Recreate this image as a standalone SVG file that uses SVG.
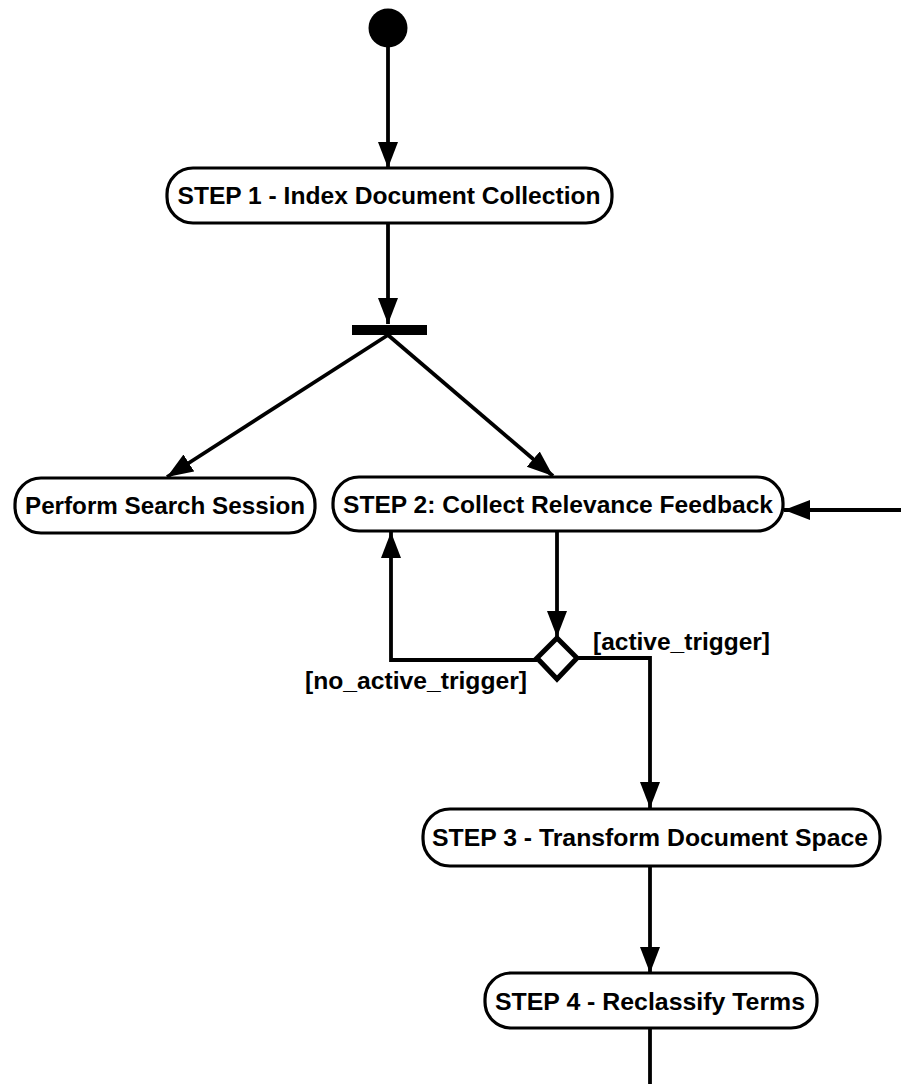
<svg xmlns="http://www.w3.org/2000/svg" width="901" height="1084" viewBox="0 0 901 1084">
  <style>
    .node { fill: #fff; stroke: #000; stroke-width: 3.2; }
    .label { font-family: "Liberation Sans", Arial, sans-serif; font-weight: bold; font-size: 24px; fill: #000; }
    .guard { font-family: "Liberation Sans", Arial, sans-serif; font-weight: bold; font-size: 23px; fill: #000; }
    .edge { fill: none; stroke: #000; stroke-width: 3.8; }
  </style>
  <defs>
    <marker id="arrow" markerUnits="userSpaceOnUse" markerWidth="28" markerHeight="22" refX="26" refY="10" orient="auto">
      <path d="M0,0 L26,10 L0,20 Z" fill="#000"/>
    </marker>
  </defs>
  <rect width="901" height="1084" fill="#fff"/>

  <g id="connectors">
    <line class="edge" x1="388" y1="46" x2="388" y2="168" marker-end="url(#arrow)"/>
    <line class="edge" x1="388" y1="223" x2="388" y2="324" marker-end="url(#arrow)"/>
    <line class="edge" x1="388" y1="335" x2="167" y2="477" marker-end="url(#arrow)"/>
    <line class="edge" x1="388" y1="335" x2="553" y2="476" marker-end="url(#arrow)"/>
    <line class="edge" x1="901" y1="510" x2="784" y2="510" marker-end="url(#arrow)"/>
    <line class="edge" x1="557" y1="531" x2="557" y2="637" marker-end="url(#arrow)"/>
    <polyline class="edge" points="537,660 391,660 391,532" marker-end="url(#arrow)"/>
    <polyline class="edge" points="577,658 650,658 650,808" marker-end="url(#arrow)"/>
    <line class="edge" x1="650" y1="866" x2="650" y2="973" marker-end="url(#arrow)"/>
    <line class="edge" x1="650" y1="1028" x2="650" y2="1084"/>
  </g>

  <g id="start">
    <circle cx="388" cy="28" r="19.5" fill="#000"/>
  </g>

  <g id="step1">
    <rect class="node" x="167" y="168" width="445" height="55" rx="26"/>
    <text class="label" x="389" y="204" text-anchor="middle" textLength="423" lengthAdjust="spacingAndGlyphs">STEP 1 - Index Document Collection</text>
  </g>

  <g id="fork">
    <rect x="352" y="325" width="75" height="10" fill="#000"/>
  </g>

  <g id="search">
    <rect class="node" x="15" y="478" width="300" height="55" rx="26"/>
    <text class="label" x="165" y="514" text-anchor="middle" textLength="280" lengthAdjust="spacingAndGlyphs">Perform Search Session</text>
  </g>

  <g id="step2">
    <rect class="node" x="333" y="477" width="450" height="54" rx="26"/>
    <text class="label" x="558" y="513" text-anchor="middle" textLength="430" lengthAdjust="spacingAndGlyphs">STEP 2: Collect Relevance Feedback</text>
  </g>

  <g id="decision">
    <polygon points="557,638 577,658 557,679 537,658" fill="#fff" stroke="#000" stroke-width="5"/>
    <text class="guard" x="593" y="650" textLength="177" lengthAdjust="spacingAndGlyphs">[active_trigger]</text>
    <text class="guard" x="305" y="689" textLength="222" lengthAdjust="spacingAndGlyphs">[no_active_trigger]</text>
  </g>

  <g id="step3">
    <rect class="node" x="423" y="809" width="457" height="57" rx="27"/>
    <text class="label" x="650" y="846" text-anchor="middle" textLength="436" lengthAdjust="spacingAndGlyphs">STEP 3 - Transform Document Space</text>
  </g>

  <g id="step4">
    <rect class="node" x="485" y="973" width="332" height="55" rx="26"/>
    <text class="label" x="650" y="1010" text-anchor="middle" textLength="310" lengthAdjust="spacingAndGlyphs">STEP 4 - Reclassify Terms</text>
  </g>
</svg>
